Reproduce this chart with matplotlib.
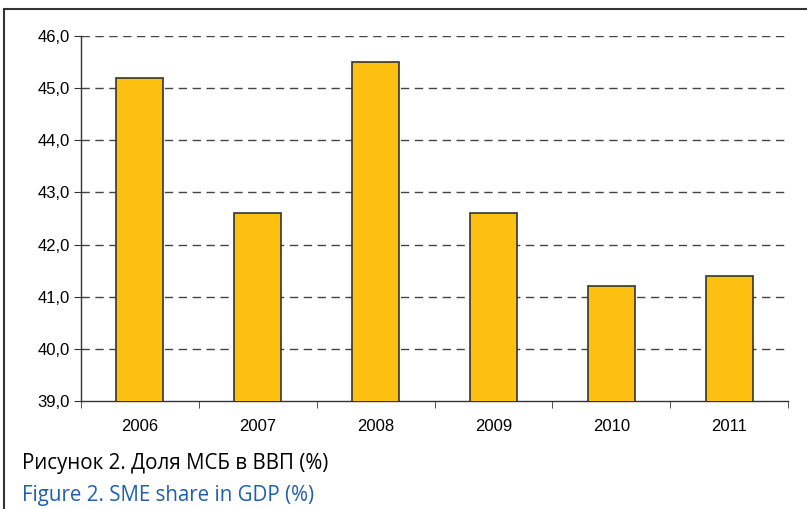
import numpy as np
import matplotlib.pyplot as plt
from matplotlib.patches import Rectangle

years = ['2006', '2007', '2008', '2009', '2010', '2011']
share = [45.2, 42.6, 45.5, 42.6, 41.2, 41.4]
y_ticks = [39, 40, 41, 42, 43, 44, 45, 46]

title_ru = 'Рисунок 2. Доля МСБ в ВВП (%)'
title_en = 'Figure 2. SME share in GDP (%)'

W, H = 807, 509
fig = plt.figure(figsize=(W / 100, H / 100), dpi=100)
ax = fig.add_axes([81 / W, 1 - 401 / H, (788 - 81) / W, (401 - 36) / H])

x = np.arange(len(years))
ax.bar(x, share, width=0.4, color='#FDC010', edgecolor='#333333', linewidth=1.2,
       zorder=3)

ax.set_ylim(39, 46)
ax.set_xlim(-0.5, len(years) - 0.5)
ax.set_yticks(y_ticks)
ax.set_yticklabels([('%.1f' % v).replace('.', ',') for v in y_ticks])
ax.set_xticks(x)
ax.set_xticklabels(years)
ax.set_xticks(np.arange(-0.5, len(years)), minor=True)

for v in y_ticks[1:]:
    ax.axhline(v, color='#444444', linestyle=(0, (6, 4)), linewidth=1.0, zorder=1)

for s in ['top', 'right']:
    ax.spines[s].set_visible(False)
for s in ['left', 'bottom']:
    ax.spines[s].set_color('#333333')
    ax.spines[s].set_linewidth(1.0)

ax.tick_params(axis='x', which='major', length=0, pad=13, labelsize=12,
               labelfontfamily='Liberation Sans')
ax.tick_params(axis='x', which='minor', length=5, color='#333333', direction='out')
ax.tick_params(axis='y', length=5, color='#333333', labelsize=12, pad=3,
               labelfontfamily='Liberation Sans')

fig.text(22 / W, 1 - 463 / H, title_ru, fontsize=14.8, family='Open Sans',
         color='black', va='center', ha='left')
fig.text(22 / W, 1 - 496 / H, title_en, fontsize=14.8, family='Open Sans',
         color='#1F5FAF', va='center', ha='left')

# outer frame
fig.add_artist(Rectangle((4 / W, -0.1), 1.2, 1 - 9 / H + 0.1, transform=fig.transFigure,
                         fill=False, edgecolor='#333333', linewidth=1.5))

fig.savefig('out.png', dpi=100)
